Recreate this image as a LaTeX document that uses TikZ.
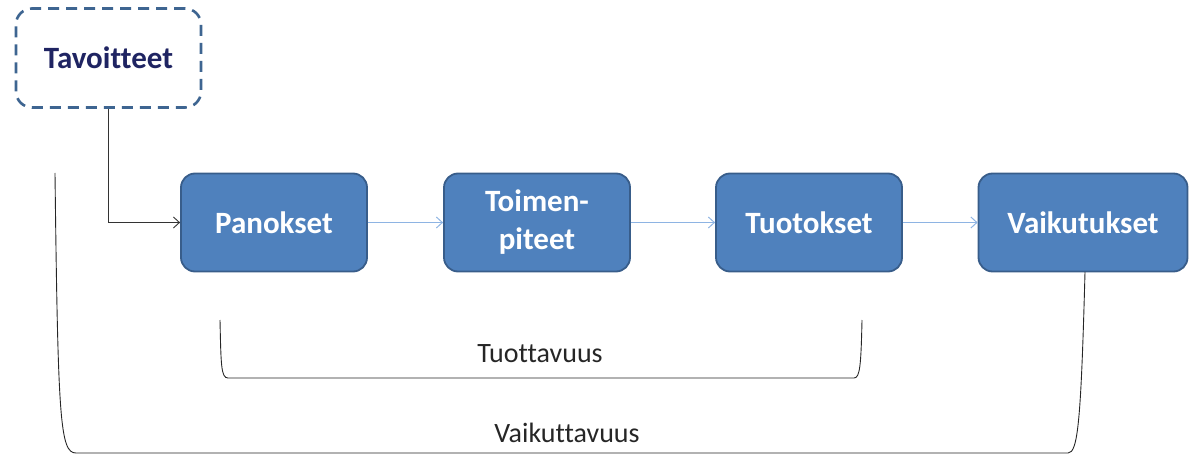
\documentclass[tikz,border=0pt]{standalone}
\usepackage{fontspec}
\setmainfont[Ligatures=CommonOff]{Carlito}
\usetikzlibrary{arrows.meta}
\definecolor{boxfill}{HTML}{4F81BD}
\definecolor{boxline}{HTML}{385D8A}
\definecolor{navy}{HTML}{1F2462}
\definecolor{lightarrow}{HTML}{8EB4E3}
\definecolor{dashline}{HTML}{3E6591}
\tikzset{
  stage/.style={draw=boxline, line width=1.8pt, fill=boxfill, rounded corners=14pt,
    text=white, font=\fontsize{31}{38}\selectfont\bfseries, align=center, inner sep=0pt},
  goal/.style={draw=dashline, line width=2.6pt, dash pattern=on 11pt off 7pt, rounded corners=16pt,
    text=navy, font=\fontsize{31}{38}\selectfont\bfseries, inner sep=0pt},
  flow/.style={draw=lightarrow, line width=1pt, -{Straight Barb[length=6pt,width=11pt]}},
  feed/.style={draw=black!80, line width=0.9pt, -{Straight Barb[length=6pt,width=11pt]}},
  brace/.style={draw=black!85, line width=0.9pt},
  lab/.style={font=\fontsize{28}{30}\selectfont, text=black!85, inner sep=0pt}
}
\begin{document}
\begin{tikzpicture}[x=1pt,y=-1pt]
\useasboundingbox (0,0) rectangle (1190,454);
\node[goal, minimum width=185pt, minimum height=99pt] (tav) at (108.5,58) {Tavoitteet};
\node[stage, minimum width=186pt, minimum height=98pt] (pan) at (274,222.5) {Panokset};
\node[stage, minimum width=186pt, minimum height=98pt] (toi) at (537,222.5) {Toimen-\\piteet};
\node[stage, minimum width=186pt, minimum height=98pt] (tuo) at (809,222.5) {Tuotokset};
\node[stage, minimum width=209pt, minimum height=98pt] (vai) at (1083,222.5) {Vaikutukset};
\draw[feed] (tav.south) |- (pan.west);
\draw[flow] (pan.east) -- (toi.west);
\draw[flow] (toi.east) -- (tuo.west);
\draw[flow] (tuo.east) -- (vai.west);
% Tuottavuus bracket
\coordinate (t1) at (220,320);
\coordinate (t2) at (862,320);
\draw[brace] (t1) .. controls (221,365) and (221,378) .. (228,378) -- (854,378) .. controls (860,378) and (861,365) .. (t2);
\node[lab] (tuott) at (540,354) {Tuottavuus};
% Vaikuttavuus bracket
\coordinate (v1) at (55,173);
\coordinate (v2) at (1085,272);
\draw[brace] (v1) .. controls (58,420) and (60,453) .. (76,453) -- (1068,453) .. controls (1078,453) and (1081,420) .. (v2);
\node[lab] (vaik) at (567,433) {Vaikuttavuus};
\end{tikzpicture}
\end{document}
